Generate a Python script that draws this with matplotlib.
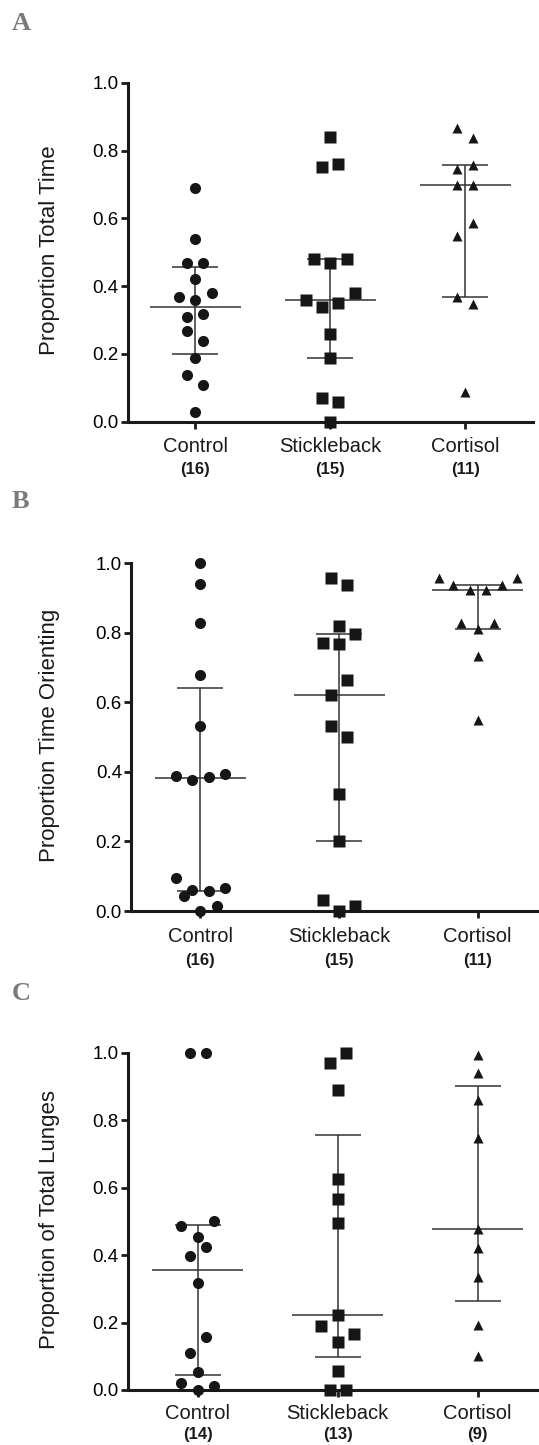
import numpy as np
import matplotlib
matplotlib.use("Agg")
import matplotlib.pyplot as plt

plt.rcParams["font.family"] = ["Liberation Sans", "DejaVu Sans"]

groups = ["Control", "Stickleback", "Cortisol"]
markers = ["o", "s", "^"]

# Panel A - proportion of total time
a_control = [0.028, 0.108, 0.138, 0.187, 0.238, 0.268, 0.308, 0.318,
             0.359, 0.369, 0.379, 0.420, 0.469, 0.469, 0.539, 0.689]
a_control_slot = [0, 1, -1, 0, 1, -1, -1, 1, 0, -2, 2, 0, -1, 1, 0, 0]
a_stickle = [0.0, 0.069, 0.057, 0.189, 0.258, 0.337, 0.349, 0.359,
             0.379, 0.467, 0.479, 0.479, 0.750, 0.759, 0.839]
a_stickle_slot = [0, -1, 1, 0, 0, -1, 1, -3, 3, 0, -2, 2, -1, 1, 0]
a_cortisol = [0.087, 0.367, 0.347, 0.549, 0.587, 0.698, 0.698, 0.746,
              0.757, 0.838, 0.867]
a_cortisol_slot = [0, -1, 1, -1, 1, -1, 1, -1, 1, 1, -1]
a_n = [16, 15, 11]

# Panel B - proportion of time orienting
b_control = [0.0, 0.014, 0.043, 0.060, 0.057, 0.066, 0.096, 0.389,
             0.377, 0.386, 0.393, 0.533, 0.679, 0.829, 0.940, 1.0]
b_control_slot = [0, 2, -2, -1, 1, 3, -3, -3, -1, 1, 3, 0, 0, 0, 0, 0]
b_stickle = [0.0, 0.014, 0.032, 0.202, 0.336, 0.501, 0.533, 0.621,
             0.665, 0.767, 0.771, 0.798, 0.821, 0.939, 0.958]
b_stickle_slot = [0, 2, -2, 0, 0, 1, -1, -1, 1, 0, -2, 2, 0, 1, -1]
b_cortisol = [0.549, 0.734, 0.810, 0.829, 0.829, 0.922, 0.922, 0.937,
              0.937, 0.957, 0.957]
b_cortisol_slot = [0, 0, 0, -2, 2, -1, 1, -3, 3, -4.75, 4.75]
b_n = [16, 15, 11]

# Panel C - proportion of total lunges
c_control = [0.0, 0.012, 0.020, 0.054, 0.111, 0.156, 0.316, 0.398,
             0.423, 0.453, 0.487, 0.501, 1.0, 1.0]
c_control_slot = [0, 2, -2, 0, -1, 1, 0, -1, 1, 0, -2, 2, -1, 1]
c_stickle = [0.0, 0.0, 0.057, 0.141, 0.166, 0.190, 0.222, 0.496,
             0.566, 0.625, 0.888, 0.969, 1.0]
c_stickle_slot = [-1, 1, 0, 0, 2, -2, 0, 0, 0, 0, 0, -1, 1]
c_cortisol = [0.102, 0.193, 0.334, 0.420, 0.476, 0.746, 0.860, 0.941, 0.993]
c_cortisol_slot = [0, 0, 0, 0, 0, 0, 0, 0, 0]
c_n = [14, 13, 9]

panels = [
    dict(letter="A", ylabel="Proportion Total Time",
         values=[a_control, a_stickle, a_cortisol],
         slots=[a_control_slot, a_stickle_slot, a_cortisol_slot], n=a_n,
         box=(127.7, 82.7, 421.7, 135.0, 532.7), letter_y=30,
         text_off=(21.6, 37.4)),
    dict(letter="B", ylabel="Proportion Time Orienting",
         values=[b_control, b_stickle, b_cortisol],
         slots=[b_control_slot, b_stickle_slot, b_cortisol_slot], n=b_n,
         box=(131.0, 563.3, 911.0, 138.7, 539.0), letter_y=508,
         text_off=(22.5, 38.9)),
    dict(letter="C", ylabel="Proportion of Total Lunges",
         values=[c_control, c_stickle, c_cortisol],
         slots=[c_control_slot, c_stickle_slot, c_cortisol_slot], n=c_n,
         box=(127.7, 1052.7, 1390.0, 140.0, 539.0), letter_y=1000,
         text_off=(21.1, 35.5)),
]

W, H = 539, 1445
ink = "#161616"
line_col = "#333333"
slot_px = 8.2
median_px = 45.5
cap_px = 23.0
msize = {"o": 8.0, "s": 8.0, "^": 7.6}

fig = plt.figure(figsize=(W / 100, H / 100), dpi=100)

for p in panels:
    left, top, bottom, spacing, right = p["box"]
    ax = fig.add_axes([left / W, 1 - bottom / H, (right - left) / W, (bottom - top) / H])
    ax.set_xlim(-0.5, -0.5 + (right - left) / spacing)
    ax.set_ylim(0, 1)

    for i, (vals, slots) in enumerate(zip(p["values"], p["slots"])):
        vals = np.asarray(vals)
        x = i + np.asarray(slots) * slot_px / spacing
        # median with interquartile range, as in the original figure
        med = np.median(vals)
        q1, q3 = np.percentile(vals, [25, 75], method="weibull")
        hw = median_px / spacing
        cw = cap_px / spacing
        ax.hlines(med, i - hw, i + hw, color=line_col, lw=1.1, zorder=2)
        ax.hlines([q1, q3], i - cw, i + cw, color=line_col, lw=1.1, zorder=2)
        ax.vlines(i, q1, q3, color=line_col, lw=1.1, zorder=2)
        m = markers[i]
        ax.plot(x, vals, ls="none", marker=m, ms=msize[m], color=ink,
                mec="none", clip_on=False, zorder=4)

    for side in ["top", "right"]:
        ax.spines[side].set_visible(False)
    for side in ["left", "bottom"]:
        ax.spines[side].set_linewidth(2.2)
        ax.spines[side].set_color("#1a1a1a")

    ax.set_yticks(np.arange(0, 1.01, 0.2))
    ax.set_yticklabels([f"{t:.1f}" for t in np.arange(0, 1.01, 0.2)])
    ax.set_xticks(range(len(groups)))
    ax.set_xticklabels([])
    ax.tick_params(axis="both", direction="out", length=5, width=2,
                   color="#1a1a1a", labelsize=13.5, pad=1.5)

    off1, off2 = p["text_off"]
    for i, (g, n) in enumerate(zip(groups, p["n"])):
        ax.annotate(g, xy=(i, 0), xycoords=("data", "axes fraction"),
                    xytext=(0, -off1), textcoords="offset points",
                    ha="center", va="baseline", fontsize=14.5, color="#1a1a1a")
        ax.annotate(f"({n})", xy=(i, 0), xycoords=("data", "axes fraction"),
                    xytext=(0, -off2), textcoords="offset points",
                    ha="center", va="baseline", fontsize=12,
                    fontweight="bold", color="#1a1a1a")

    ymid = (top + bottom) / 2 - 2
    fig.text(50 / W, 1 - ymid / H, p["ylabel"], rotation=90, ha="center",
             va="center", fontsize=16, color="#1a1a1a")
    fig.text(12 / W, 1 - p["letter_y"] / H, p["letter"], ha="left",
             va="baseline", fontsize=19, fontweight="bold",
             family=["Liberation Serif", "DejaVu Serif"], color="#7a7a7a")

fig.savefig("out.png", dpi=100)
